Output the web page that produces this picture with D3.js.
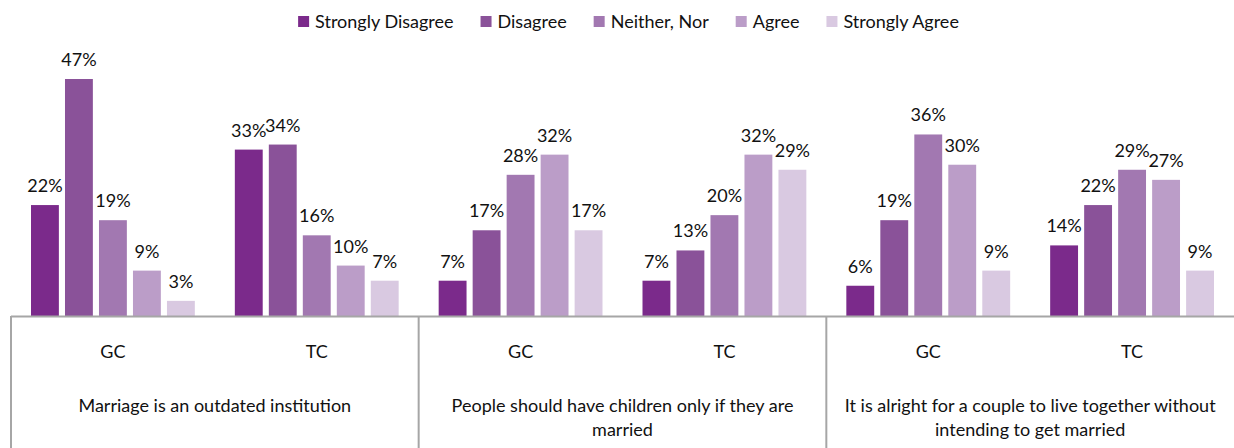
<!DOCTYPE html>
<html>
<head>
<meta charset="utf-8">
<script src="https://cdn.jsdelivr.net/npm/d3@7"></script>
<style>
  html, body { margin: 0; padding: 0; background: #fff; }
  svg { display: block; font-family: Lato, "Open Sans", sans-serif; }
</style>
</head>
<body>
<svg id="chart"></svg>
<script>
const W = 1234, H = 448;

const series = ["Strongly Disagree", "Disagree", "Neither, Nor", "Agree", "Strongly Agree"];
const colors = ["#7b2a8b", "#8a5299", "#a278b1", "#bb9dc8", "#d9c9e1"];
const questions = [
    ["Marriage is an outdated institution"],
    ["People should have children only if they are", "married"],
    ["It is alright for a couple to live together without", "intending to get married"]
];
const groups = ["GC", "TC"];
// values per question / group, in series order
const q1GC = [22, 47, 19, 9, 3];
const q1TC = [33, 34, 16, 10, 7];
const q2GC = [7, 17, 28, 32, 17];
const q2TC = [7, 13, 20, 32, 29];
const q3GC = [6, 19, 36, 30, 9];
const q3TC = [14, 22, 29, 27, 9];

const rows = [
    { q: 0, g: "GC", values: q1GC },
    { q: 0, g: "TC", values: q1TC },
    { q: 1, g: "GC", values: q2GC },
    { q: 1, g: "TC", values: q2TC },
    { q: 2, g: "GC", values: q3GC },
    { q: 2, g: "TC", values: q3TC }
];

const left = 11, right = 1234, base = 316;
const fs = 18;

const svg = d3.select("#chart")
    .attr("width", W)
    .attr("height", H)
    .attr("viewBox", `0 0 ${W} ${H}`);

const x0 = d3.scaleBand()
    .domain(rows.map((d, i) => i))
    .range([left, right])
    .padding(0);

const qScale = d3.scaleBand()
    .domain(questions.map((d, i) => i))
    .range([left, right]);

const x1 = d3.scaleBand()
    .domain(series)
    .range([20, x0.bandwidth() - 20])
    .paddingInner(0.18)
    .paddingOuter(0);

const y = d3.scaleLinear()
    .domain([0, 47])
    .range([base, 79]);

const color = d3.scaleOrdinal().domain(series).range(colors);

// bars
const grp = svg.append("g").selectAll("g")
    .data(rows)
    .join("g")
    .attr("transform", (d, i) => `translate(${x0(i)},0)`);

grp.selectAll("rect")
    .data(d => d.values.map((v, j) => ({ key: series[j], v })))
    .join("rect")
    .attr("x", d => x1(d.key))
    .attr("y", d => y(d.v))
    .attr("width", x1.bandwidth())
    .attr("height", d => base - y(d.v))
    .attr("fill", d => color(d.key));

grp.selectAll("text")
    .data(d => d.values.map((v, j) => ({ key: series[j], v })))
    .join("text")
    .attr("x", d => x1(d.key) + x1.bandwidth() / 2)
    .attr("y", d => y(d.v) - 13)
    .attr("text-anchor", "middle")
    .attr("font-size", fs)
    .attr("fill", "#111")
    .text(d => d.v + "%");

// table lines
const lineColor = "#a6a6a6";
svg.append("line")
    .attr("x1", left).attr("x2", right)
    .attr("y1", base + 0.5).attr("y2", base + 0.5)
    .attr("stroke", lineColor).attr("stroke-width", 2);

svg.selectAll("line.div")
    .data(questions.map((d, i) => i))
    .join("line")
    .attr("class", "div")
    .attr("x1", d => qScale(d)).attr("x2", d => qScale(d))
    .attr("y1", base).attr("y2", H)
    .attr("stroke", lineColor).attr("stroke-width", 2);

// group labels
svg.selectAll("text.grp")
    .data(rows)
    .join("text")
    .attr("class", "grp")
    .attr("x", (d, i) => x0(i) + x0.bandwidth() / 2)
    .attr("y", 358)
    .attr("text-anchor", "middle")
    .attr("font-size", fs)
    .attr("fill", "#111")
    .text(d => d.g);

// question labels
const qt = svg.selectAll("text.q")
    .data(questions)
    .join("text")
    .attr("class", "q")
    .attr("x", (d, i) => qScale(i) + qScale.bandwidth() / 2)
    .attr("y", 412)
    .attr("text-anchor", "middle")
    .attr("font-size", fs)
    .attr("fill", "#111");

qt.selectAll("tspan")
    .data(d => d)
    .join("tspan")
    .attr("x", function () { return d3.select(this.parentNode).attr("x"); })
    .attr("dy", (d, i) => i === 0 ? 0 : 24)
    .text(d => d);

// legend
const legend = svg.append("g").attr("transform", "translate(0,22)");
let lx = 0;
const items = legend.selectAll("g")
    .data(series)
    .join("g");
items.append("rect")
    .attr("x", 0).attr("y", -6)
    .attr("width", 11).attr("height", 11)
    .attr("fill", d => color(d));
items.append("text")
    .attr("x", 17).attr("y", 6)
    .attr("font-size", fs)
    .attr("fill", "#111")
    .text(d => d);
items.each(function () {
    const w = d3.select(this).select("text").node().getComputedTextLength();
    d3.select(this).attr("transform", `translate(${lx},0)`);
    lx += 17 + w + 27;
});
const totalW = lx - 27;
legend.attr("transform", `translate(${628.5 - totalW / 2},22)`);
</script>
</body>
</html>
